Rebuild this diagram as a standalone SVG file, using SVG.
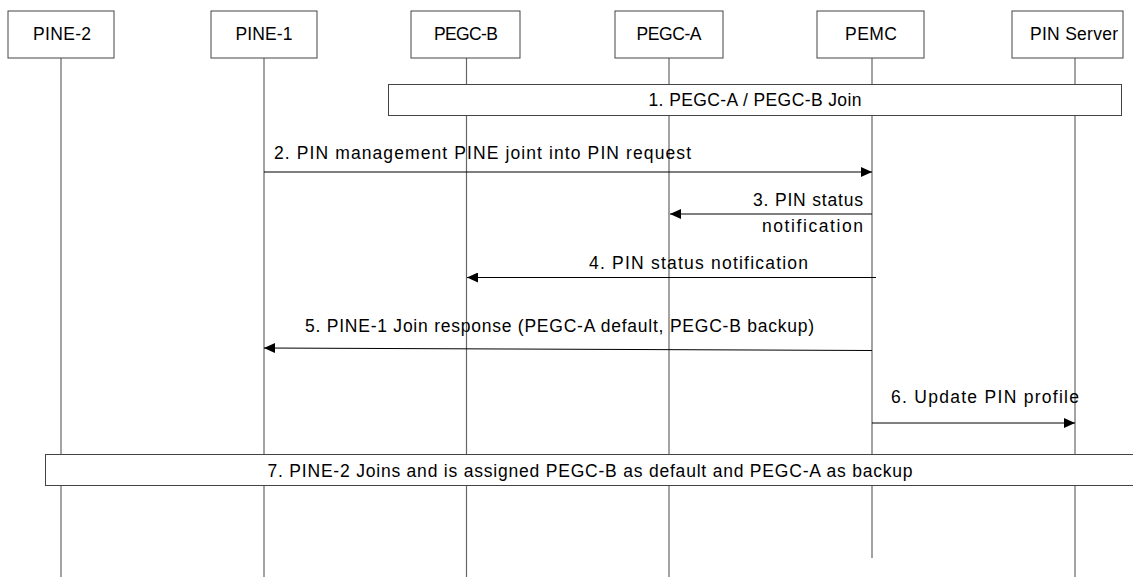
<svg xmlns="http://www.w3.org/2000/svg" width="1133" height="577" viewBox="0 0 1133 577">
<style>
text{font-family:"Liberation Sans",Arial,sans-serif;font-size:17.5px;fill:#000}
.hdr{fill:#fff;stroke:#444;stroke-width:1}
.life{stroke:#666;stroke-width:1.2;fill:none}
.msg{stroke:#000;stroke-width:1;fill:none;marker-end:url(#ah)}
.note{fill:#fff;stroke:#444;stroke-width:1}
</style>
<defs>
<marker id="ah" markerWidth="12" markerHeight="10" refX="11" refY="5" orient="auto" markerUnits="userSpaceOnUse">
<path d="M0,0 L11,5 L0,10 Z" fill="#000"/>
</marker>
</defs>
<rect width="1133" height="577" fill="#fff"/>
<g id="pine2">
<line class="life" x1="61" y1="58" x2="61" y2="577"/>
<rect class="hdr" x="8" y="11" width="106" height="47"/>
<text x="62" y="40" text-anchor="middle" textLength="58" lengthAdjust="spacing">PINE-2</text>
</g>
<g id="pine1">
<line class="life" x1="264" y1="58" x2="264" y2="577"/>
<rect class="hdr" x="211" y="11" width="106" height="47"/>
<text x="264" y="40" text-anchor="middle" textLength="57" lengthAdjust="spacing">PINE-1</text>
</g>
<g id="pegcb">
<line class="life" x1="466.5" y1="58" x2="466.5" y2="577"/>
<rect class="hdr" x="411" y="11" width="109" height="47"/>
<text x="466" y="40" text-anchor="middle" textLength="64" lengthAdjust="spacing">PEGC-B</text>
</g>
<g id="pegca">
<line class="life" x1="669" y1="58" x2="669" y2="577"/>
<rect class="hdr" x="615" y="11" width="108" height="47"/>
<text x="669" y="40" text-anchor="middle" textLength="65" lengthAdjust="spacing">PEGC-A</text>
</g>
<g id="pemc">
<line class="life" x1="872" y1="58" x2="872" y2="558"/>
<rect class="hdr" x="817" y="11" width="107" height="47"/>
<text x="871" y="40" text-anchor="middle" textLength="52" lengthAdjust="spacing">PEMC</text>
</g>
<g id="pinserver">
<line class="life" x1="1075" y1="58" x2="1075" y2="577"/>
<rect class="hdr" x="1012" y="11" width="111" height="47"/>
<text x="1074" y="40" text-anchor="middle" textLength="88" lengthAdjust="spacing">PIN Server</text>
</g>
<g id="step1">
<rect class="note" x="388.5" y="84.5" width="733" height="31"/>
<text x="755" y="106" text-anchor="middle" textLength="213" lengthAdjust="spacing">1. PEGC-A / PEGC-B Join</text>
</g>
<g id="step7">
<rect class="note" x="45.5" y="454.5" width="1100" height="31"/>
<text x="590" y="477" text-anchor="middle" textLength="645" lengthAdjust="spacing">7. PINE-2 Joins and is assigned PEGC-B as default and PEGC-A as backup</text>
</g>
<g id="connectors">
<line class="msg" x1="264" y1="172" x2="872" y2="172"/>
<line class="msg" x1="872" y1="214" x2="670" y2="214"/>
<line class="msg" x1="876" y1="277.5" x2="467" y2="277.5"/>
<line class="msg" x1="872" y1="350.5" x2="264" y2="348"/>
<line class="msg" x1="872" y1="423" x2="1075" y2="423"/>
</g>
<g id="labels">
<text x="274" y="159" textLength="417" lengthAdjust="spacing">2. PIN management PINE joint into PIN request</text>
<text x="863" y="206" text-anchor="end" textLength="110" lengthAdjust="spacing">3. PIN status</text>
<text x="863" y="232" text-anchor="end" textLength="101" lengthAdjust="spacing">notification</text>
<text x="589" y="269" textLength="219" lengthAdjust="spacing">4. PIN status notification</text>
<text x="305" y="332" textLength="509" lengthAdjust="spacing">5. PINE-1 Join response (PEGC-A default, PEGC-B backup)</text>
<text x="891" y="403" textLength="188" lengthAdjust="spacing">6. Update PIN profile</text>
</g>
</svg>
